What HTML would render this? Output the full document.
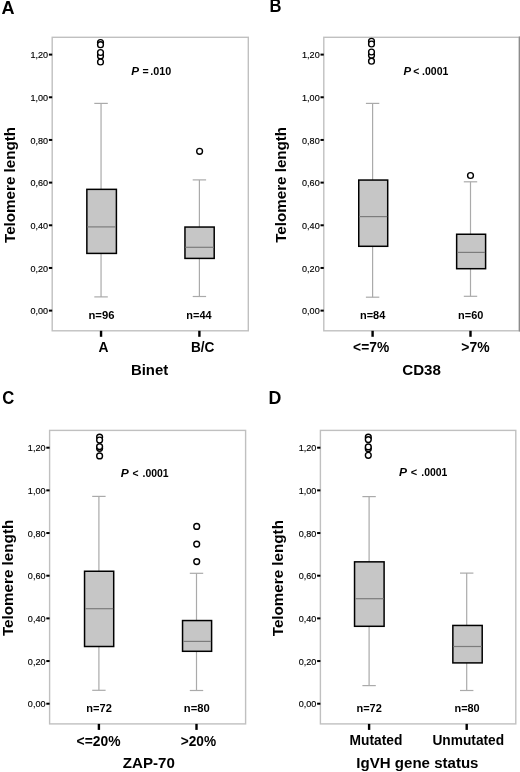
<!DOCTYPE html>
<html><head><meta charset="utf-8"><title>Telomere length box plots</title>
<style>
html,body{margin:0;padding:0;background:#fff;}
body{width:520px;height:772px;overflow:hidden;}
svg{display:block;filter:blur(0.25px);}
text{font-family:"Liberation Sans", sans-serif;fill:#000;}
</style></head>
<body>
<svg width="520" height="772" viewBox="0 0 520 772">
<rect width="520" height="772" fill="#fff"/>
<text x="1.55" y="13.70" font-size="18.0" font-weight="bold" textLength="13.02" lengthAdjust="spacingAndGlyphs">A</text>
<rect x="52.2" y="37.3" width="196.1" height="293.5" fill="none" stroke="#c0c0c0" stroke-width="1.4"/>
<line x1="48.9" y1="54.60" x2="52.2" y2="54.60" stroke="#000" stroke-width="2"/>
<text x="48.1" y="58.35" font-size="9.7" text-anchor="end" fill="#000" stroke="#000" stroke-width="0.15" textLength="17.65" lengthAdjust="spacingAndGlyphs">1,20</text>
<line x1="48.9" y1="97.27" x2="52.2" y2="97.27" stroke="#000" stroke-width="2"/>
<text x="48.1" y="101.02" font-size="9.7" text-anchor="end" fill="#000" stroke="#000" stroke-width="0.15" textLength="17.65" lengthAdjust="spacingAndGlyphs">1,00</text>
<line x1="48.9" y1="139.94" x2="52.2" y2="139.94" stroke="#000" stroke-width="2"/>
<text x="48.1" y="143.69" font-size="9.7" text-anchor="end" fill="#000" stroke="#000" stroke-width="0.15" textLength="17.65" lengthAdjust="spacingAndGlyphs">0,80</text>
<line x1="48.9" y1="182.61" x2="52.2" y2="182.61" stroke="#000" stroke-width="2"/>
<text x="48.1" y="186.36" font-size="9.7" text-anchor="end" fill="#000" stroke="#000" stroke-width="0.15" textLength="17.65" lengthAdjust="spacingAndGlyphs">0,60</text>
<line x1="48.9" y1="225.28" x2="52.2" y2="225.28" stroke="#000" stroke-width="2"/>
<text x="48.1" y="229.03" font-size="9.7" text-anchor="end" fill="#000" stroke="#000" stroke-width="0.15" textLength="17.65" lengthAdjust="spacingAndGlyphs">0,40</text>
<line x1="48.9" y1="267.95" x2="52.2" y2="267.95" stroke="#000" stroke-width="2"/>
<text x="48.1" y="271.70" font-size="9.7" text-anchor="end" fill="#000" stroke="#000" stroke-width="0.15" textLength="17.65" lengthAdjust="spacingAndGlyphs">0,20</text>
<line x1="48.9" y1="310.62" x2="52.2" y2="310.62" stroke="#000" stroke-width="2"/>
<text x="48.1" y="314.37" font-size="9.7" text-anchor="end" fill="#000" stroke="#000" stroke-width="0.15" textLength="17.65" lengthAdjust="spacingAndGlyphs">0,00</text>
<text transform="translate(15.30,242.97) rotate(-90)" font-size="15.3" font-weight="bold" textLength="116.10" lengthAdjust="spacingAndGlyphs">Telomere length</text>
<line x1="101.05" y1="103.4" x2="101.05" y2="189.2" stroke="#aaaaaa" stroke-width="1.2"/>
<line x1="101.05" y1="253.4" x2="101.05" y2="296.9" stroke="#aaaaaa" stroke-width="1.2"/>
<line x1="94.3" y1="103.4" x2="107.8" y2="103.4" stroke="#aaaaaa" stroke-width="1.2"/>
<line x1="94.3" y1="296.9" x2="107.8" y2="296.9" stroke="#aaaaaa" stroke-width="1.2"/>
<rect x="86.85" y="189.35" width="29.55" height="64.05" fill="#c6c6c6" stroke="#000" stroke-width="1.5"/>
<line x1="87.3" y1="226.9" x2="115.9" y2="226.9" stroke="#7c7c7c" stroke-width="1.2"/>
<circle cx="100.5" cy="42.5" r="2.9" fill="#fff" stroke="#000" stroke-width="1.4"/>
<circle cx="100.5" cy="44.7" r="2.9" fill="#fff" stroke="#000" stroke-width="1.4"/>
<circle cx="100.5" cy="55.9" r="2.9" fill="#fff" stroke="#000" stroke-width="1.4"/>
<circle cx="100.5" cy="52.5" r="2.9" fill="#fff" stroke="#000" stroke-width="1.4"/>
<circle cx="100.5" cy="62.0" r="2.9" fill="#fff" stroke="#000" stroke-width="1.4"/>
<text x="88.45" y="319.00" font-size="10.8" font-weight="bold" textLength="26.05" lengthAdjust="spacingAndGlyphs">n=96</text>
<line x1="101.05" y1="330.8" x2="101.05" y2="336.8" stroke="#000" stroke-width="2.4"/>
<text x="98.45" y="352.10" font-size="13.8" font-weight="bold" textLength="10.01" lengthAdjust="spacingAndGlyphs">A</text>
<line x1="199.4" y1="179.9" x2="199.4" y2="226.9" stroke="#aaaaaa" stroke-width="1.2"/>
<line x1="199.4" y1="258.4" x2="199.4" y2="296.5" stroke="#aaaaaa" stroke-width="1.2"/>
<line x1="192.7" y1="179.9" x2="206.1" y2="179.9" stroke="#aaaaaa" stroke-width="1.2"/>
<line x1="192.7" y1="296.5" x2="206.1" y2="296.5" stroke="#aaaaaa" stroke-width="1.2"/>
<rect x="184.95" y="227.05" width="29.25" height="31.35" fill="#c6c6c6" stroke="#000" stroke-width="1.5"/>
<line x1="185.4" y1="247.3" x2="213.7" y2="247.3" stroke="#7c7c7c" stroke-width="1.2"/>
<circle cx="199.6" cy="151.3" r="2.9" fill="#fff" stroke="#000" stroke-width="1.4"/>
<text x="186.38" y="319.00" font-size="10.8" font-weight="bold" textLength="25.18" lengthAdjust="spacingAndGlyphs">n=44</text>
<line x1="199.4" y1="330.8" x2="199.4" y2="336.8" stroke="#000" stroke-width="2.4"/>
<text x="190.89" y="352.30" font-size="13.8" font-weight="bold" textLength="23.48" lengthAdjust="spacingAndGlyphs">B/C</text>
<text x="130.90" y="374.60" font-size="14.7" font-weight="bold" textLength="37.28" lengthAdjust="spacingAndGlyphs">Binet</text>
<text x="131.29" y="74.90" font-size="10.4" font-weight="bold" textLength="7.80" lengthAdjust="spacingAndGlyphs" font-style="italic">P</text>
<text x="142.56" y="74.90" font-size="10.4" font-weight="bold" textLength="6.18" lengthAdjust="spacingAndGlyphs">=</text>
<text x="150.27" y="74.90" font-size="10.4" font-weight="bold" textLength="20.98" lengthAdjust="spacingAndGlyphs">.010</text>
<text x="269.59" y="12.40" font-size="18.0" font-weight="bold" textLength="11.96" lengthAdjust="spacingAndGlyphs">B</text>
<rect x="323.8" y="37.3" width="195.6" height="293.5" fill="none" stroke="#c0c0c0" stroke-width="1.4"/>
<line x1="519.4" y1="36.599999999999994" x2="519.4" y2="331.5" stroke="#8c8c8c" stroke-width="1.3"/>
<line x1="320.5" y1="54.60" x2="323.8" y2="54.60" stroke="#000" stroke-width="2"/>
<text x="319.7" y="58.35" font-size="9.7" text-anchor="end" fill="#000" stroke="#000" stroke-width="0.15" textLength="17.65" lengthAdjust="spacingAndGlyphs">1,20</text>
<line x1="320.5" y1="97.27" x2="323.8" y2="97.27" stroke="#000" stroke-width="2"/>
<text x="319.7" y="101.02" font-size="9.7" text-anchor="end" fill="#000" stroke="#000" stroke-width="0.15" textLength="17.65" lengthAdjust="spacingAndGlyphs">1,00</text>
<line x1="320.5" y1="139.94" x2="323.8" y2="139.94" stroke="#000" stroke-width="2"/>
<text x="319.7" y="143.69" font-size="9.7" text-anchor="end" fill="#000" stroke="#000" stroke-width="0.15" textLength="17.65" lengthAdjust="spacingAndGlyphs">0,80</text>
<line x1="320.5" y1="182.61" x2="323.8" y2="182.61" stroke="#000" stroke-width="2"/>
<text x="319.7" y="186.36" font-size="9.7" text-anchor="end" fill="#000" stroke="#000" stroke-width="0.15" textLength="17.65" lengthAdjust="spacingAndGlyphs">0,60</text>
<line x1="320.5" y1="225.28" x2="323.8" y2="225.28" stroke="#000" stroke-width="2"/>
<text x="319.7" y="229.03" font-size="9.7" text-anchor="end" fill="#000" stroke="#000" stroke-width="0.15" textLength="17.65" lengthAdjust="spacingAndGlyphs">0,40</text>
<line x1="320.5" y1="267.95" x2="323.8" y2="267.95" stroke="#000" stroke-width="2"/>
<text x="319.7" y="271.70" font-size="9.7" text-anchor="end" fill="#000" stroke="#000" stroke-width="0.15" textLength="17.65" lengthAdjust="spacingAndGlyphs">0,20</text>
<line x1="320.5" y1="310.62" x2="323.8" y2="310.62" stroke="#000" stroke-width="2"/>
<text x="319.7" y="314.37" font-size="9.7" text-anchor="end" fill="#000" stroke="#000" stroke-width="0.15" textLength="17.65" lengthAdjust="spacingAndGlyphs">0,00</text>
<text transform="translate(286.10,242.77) rotate(-90)" font-size="15.3" font-weight="bold" textLength="115.90" lengthAdjust="spacingAndGlyphs">Telomere length</text>
<line x1="372.6" y1="103.4" x2="372.6" y2="179.9" stroke="#aaaaaa" stroke-width="1.2"/>
<line x1="372.6" y1="246.3" x2="372.6" y2="297.2" stroke="#aaaaaa" stroke-width="1.2"/>
<line x1="365.9" y1="103.4" x2="379.3" y2="103.4" stroke="#aaaaaa" stroke-width="1.2"/>
<line x1="365.9" y1="297.2" x2="379.3" y2="297.2" stroke="#aaaaaa" stroke-width="1.2"/>
<rect x="358.75" y="180.05" width="28.95" height="66.25" fill="#c6c6c6" stroke="#000" stroke-width="1.5"/>
<line x1="359.2" y1="216.6" x2="387.2" y2="216.6" stroke="#7c7c7c" stroke-width="1.2"/>
<circle cx="371.5" cy="41.3" r="2.9" fill="#fff" stroke="#000" stroke-width="1.4"/>
<circle cx="371.5" cy="44.0" r="2.9" fill="#fff" stroke="#000" stroke-width="1.4"/>
<circle cx="371.5" cy="55.3" r="2.9" fill="#fff" stroke="#000" stroke-width="1.4"/>
<circle cx="371.5" cy="52.0" r="2.9" fill="#fff" stroke="#000" stroke-width="1.4"/>
<circle cx="371.5" cy="61.2" r="2.9" fill="#fff" stroke="#000" stroke-width="1.4"/>
<text x="359.98" y="319.00" font-size="10.8" font-weight="bold" textLength="25.28" lengthAdjust="spacingAndGlyphs">n=84</text>
<line x1="372.6" y1="330.8" x2="372.6" y2="336.8" stroke="#000" stroke-width="2.4"/>
<text x="353.12" y="352.30" font-size="13.8" font-weight="bold" textLength="36.04" lengthAdjust="spacingAndGlyphs">&lt;=7%</text>
<line x1="470.5" y1="181.8" x2="470.5" y2="234.1" stroke="#aaaaaa" stroke-width="1.2"/>
<line x1="470.5" y1="268.7" x2="470.5" y2="296.3" stroke="#aaaaaa" stroke-width="1.2"/>
<line x1="463.8" y1="181.8" x2="477.2" y2="181.8" stroke="#aaaaaa" stroke-width="1.2"/>
<line x1="463.8" y1="296.3" x2="477.2" y2="296.3" stroke="#aaaaaa" stroke-width="1.2"/>
<rect x="456.65" y="234.25" width="28.95" height="34.45" fill="#c6c6c6" stroke="#000" stroke-width="1.5"/>
<line x1="457.2" y1="252.4" x2="485.1" y2="252.4" stroke="#7c7c7c" stroke-width="1.2"/>
<circle cx="470.5" cy="175.5" r="2.9" fill="#fff" stroke="#000" stroke-width="1.4"/>
<text x="458.08" y="319.00" font-size="10.8" font-weight="bold" textLength="25.27" lengthAdjust="spacingAndGlyphs">n=60</text>
<line x1="470.5" y1="330.8" x2="470.5" y2="336.8" stroke="#000" stroke-width="2.4"/>
<text x="461.32" y="352.30" font-size="13.8" font-weight="bold" textLength="28.25" lengthAdjust="spacingAndGlyphs">&gt;7%</text>
<text x="402.28" y="375.10" font-size="14.7" font-weight="bold" textLength="38.68" lengthAdjust="spacingAndGlyphs">CD38</text>
<text x="403.40" y="75.10" font-size="10.4" font-weight="bold" textLength="7.59" lengthAdjust="spacingAndGlyphs" font-style="italic">P</text>
<text x="413.36" y="75.10" font-size="10.4" font-weight="bold" textLength="6.06" lengthAdjust="spacingAndGlyphs">&lt;</text>
<text x="422.08" y="75.10" font-size="10.4" font-weight="bold" textLength="26.31" lengthAdjust="spacingAndGlyphs">.0001</text>
<text x="2.22" y="404.40" font-size="18.0" font-weight="bold" textLength="12.04" lengthAdjust="spacingAndGlyphs">C</text>
<rect x="49.6" y="430.4" width="196.0" height="293.5" fill="none" stroke="#c0c0c0" stroke-width="1.4"/>
<line x1="46.3" y1="447.70" x2="49.6" y2="447.70" stroke="#000" stroke-width="2"/>
<text x="45.5" y="451.45" font-size="9.7" text-anchor="end" fill="#000" stroke="#000" stroke-width="0.15" textLength="17.65" lengthAdjust="spacingAndGlyphs">1,20</text>
<line x1="46.3" y1="490.37" x2="49.6" y2="490.37" stroke="#000" stroke-width="2"/>
<text x="45.5" y="494.12" font-size="9.7" text-anchor="end" fill="#000" stroke="#000" stroke-width="0.15" textLength="17.65" lengthAdjust="spacingAndGlyphs">1,00</text>
<line x1="46.3" y1="533.04" x2="49.6" y2="533.04" stroke="#000" stroke-width="2"/>
<text x="45.5" y="536.79" font-size="9.7" text-anchor="end" fill="#000" stroke="#000" stroke-width="0.15" textLength="17.65" lengthAdjust="spacingAndGlyphs">0,80</text>
<line x1="46.3" y1="575.71" x2="49.6" y2="575.71" stroke="#000" stroke-width="2"/>
<text x="45.5" y="579.46" font-size="9.7" text-anchor="end" fill="#000" stroke="#000" stroke-width="0.15" textLength="17.65" lengthAdjust="spacingAndGlyphs">0,60</text>
<line x1="46.3" y1="618.38" x2="49.6" y2="618.38" stroke="#000" stroke-width="2"/>
<text x="45.5" y="622.13" font-size="9.7" text-anchor="end" fill="#000" stroke="#000" stroke-width="0.15" textLength="17.65" lengthAdjust="spacingAndGlyphs">0,40</text>
<line x1="46.3" y1="661.05" x2="49.6" y2="661.05" stroke="#000" stroke-width="2"/>
<text x="45.5" y="664.80" font-size="9.7" text-anchor="end" fill="#000" stroke="#000" stroke-width="0.15" textLength="17.65" lengthAdjust="spacingAndGlyphs">0,20</text>
<line x1="46.3" y1="703.72" x2="49.6" y2="703.72" stroke="#000" stroke-width="2"/>
<text x="45.5" y="707.47" font-size="9.7" text-anchor="end" fill="#000" stroke="#000" stroke-width="0.15" textLength="17.65" lengthAdjust="spacingAndGlyphs">0,00</text>
<text transform="translate(12.60,636.07) rotate(-90)" font-size="15.3" font-weight="bold" textLength="116.30" lengthAdjust="spacingAndGlyphs">Telomere length</text>
<line x1="98.9" y1="496.4" x2="98.9" y2="571.1" stroke="#aaaaaa" stroke-width="1.2"/>
<line x1="98.9" y1="646.5" x2="98.9" y2="690.3" stroke="#aaaaaa" stroke-width="1.2"/>
<line x1="92.2" y1="496.4" x2="105.6" y2="496.4" stroke="#aaaaaa" stroke-width="1.2"/>
<line x1="92.2" y1="690.3" x2="105.6" y2="690.3" stroke="#aaaaaa" stroke-width="1.2"/>
<rect x="84.55" y="571.25" width="29.15" height="75.25" fill="#c6c6c6" stroke="#000" stroke-width="1.5"/>
<line x1="85.0" y1="608.7" x2="113.2" y2="608.7" stroke="#7c7c7c" stroke-width="1.2"/>
<circle cx="99.6" cy="437.1" r="2.9" fill="#fff" stroke="#000" stroke-width="1.4"/>
<circle cx="99.6" cy="440.0" r="2.9" fill="#fff" stroke="#000" stroke-width="1.4"/>
<circle cx="99.6" cy="448.3" r="2.9" fill="#fff" stroke="#000" stroke-width="1.4"/>
<circle cx="99.6" cy="446.6" r="2.9" fill="#fff" stroke="#000" stroke-width="1.4"/>
<circle cx="99.6" cy="455.9" r="2.9" fill="#fff" stroke="#000" stroke-width="1.4"/>
<text x="86.37" y="712.00" font-size="10.8" font-weight="bold" textLength="25.47" lengthAdjust="spacingAndGlyphs">n=72</text>
<line x1="98.9" y1="723.9" x2="98.9" y2="729.9" stroke="#000" stroke-width="2.4"/>
<text x="76.62" y="745.80" font-size="13.8" font-weight="bold" textLength="43.95" lengthAdjust="spacingAndGlyphs">&lt;=20%</text>
<line x1="196.5" y1="573.3" x2="196.5" y2="620.4" stroke="#aaaaaa" stroke-width="1.2"/>
<line x1="196.5" y1="651.3" x2="196.5" y2="690.5" stroke="#aaaaaa" stroke-width="1.2"/>
<line x1="189.8" y1="573.3" x2="203.2" y2="573.3" stroke="#aaaaaa" stroke-width="1.2"/>
<line x1="189.8" y1="690.5" x2="203.2" y2="690.5" stroke="#aaaaaa" stroke-width="1.2"/>
<rect x="182.55" y="620.55" width="29.05" height="30.75" fill="#c6c6c6" stroke="#000" stroke-width="1.5"/>
<line x1="183.0" y1="641.4" x2="211.1" y2="641.4" stroke="#7c7c7c" stroke-width="1.2"/>
<circle cx="196.7" cy="526.4" r="2.9" fill="#fff" stroke="#000" stroke-width="1.4"/>
<circle cx="196.7" cy="544.1" r="2.9" fill="#fff" stroke="#000" stroke-width="1.4"/>
<circle cx="196.7" cy="561.6" r="2.9" fill="#fff" stroke="#000" stroke-width="1.4"/>
<text x="183.86" y="711.90" font-size="10.8" font-weight="bold" textLength="25.90" lengthAdjust="spacingAndGlyphs">n=80</text>
<line x1="196.5" y1="723.9" x2="196.5" y2="729.9" stroke="#000" stroke-width="2.4"/>
<text x="180.73" y="745.70" font-size="13.8" font-weight="bold" textLength="35.34" lengthAdjust="spacingAndGlyphs">&gt;20%</text>
<text x="122.85" y="767.60" font-size="14.7" font-weight="bold" textLength="51.98" lengthAdjust="spacingAndGlyphs">ZAP-70</text>
<text x="120.68" y="476.70" font-size="10.4" font-weight="bold" textLength="8.00" lengthAdjust="spacingAndGlyphs" font-style="italic">P</text>
<text x="132.56" y="476.70" font-size="10.4" font-weight="bold" textLength="6.06" lengthAdjust="spacingAndGlyphs">&lt;</text>
<text x="142.49" y="476.70" font-size="10.4" font-weight="bold" textLength="26.11" lengthAdjust="spacingAndGlyphs">.0001</text>
<text x="268.61" y="403.80" font-size="18.0" font-weight="bold" textLength="12.84" lengthAdjust="spacingAndGlyphs">D</text>
<rect x="320.4" y="430.4" width="195.4" height="293.5" fill="none" stroke="#c0c0c0" stroke-width="1.4"/>
<line x1="317.1" y1="447.70" x2="320.4" y2="447.70" stroke="#000" stroke-width="2"/>
<text x="316.3" y="451.45" font-size="9.7" text-anchor="end" fill="#000" stroke="#000" stroke-width="0.15" textLength="17.65" lengthAdjust="spacingAndGlyphs">1,20</text>
<line x1="317.1" y1="490.37" x2="320.4" y2="490.37" stroke="#000" stroke-width="2"/>
<text x="316.3" y="494.12" font-size="9.7" text-anchor="end" fill="#000" stroke="#000" stroke-width="0.15" textLength="17.65" lengthAdjust="spacingAndGlyphs">1,00</text>
<line x1="317.1" y1="533.04" x2="320.4" y2="533.04" stroke="#000" stroke-width="2"/>
<text x="316.3" y="536.79" font-size="9.7" text-anchor="end" fill="#000" stroke="#000" stroke-width="0.15" textLength="17.65" lengthAdjust="spacingAndGlyphs">0,80</text>
<line x1="317.1" y1="575.71" x2="320.4" y2="575.71" stroke="#000" stroke-width="2"/>
<text x="316.3" y="579.46" font-size="9.7" text-anchor="end" fill="#000" stroke="#000" stroke-width="0.15" textLength="17.65" lengthAdjust="spacingAndGlyphs">0,60</text>
<line x1="317.1" y1="618.38" x2="320.4" y2="618.38" stroke="#000" stroke-width="2"/>
<text x="316.3" y="622.13" font-size="9.7" text-anchor="end" fill="#000" stroke="#000" stroke-width="0.15" textLength="17.65" lengthAdjust="spacingAndGlyphs">0,40</text>
<line x1="317.1" y1="661.05" x2="320.4" y2="661.05" stroke="#000" stroke-width="2"/>
<text x="316.3" y="664.80" font-size="9.7" text-anchor="end" fill="#000" stroke="#000" stroke-width="0.15" textLength="17.65" lengthAdjust="spacingAndGlyphs">0,20</text>
<line x1="317.1" y1="703.72" x2="320.4" y2="703.72" stroke="#000" stroke-width="2"/>
<text x="316.3" y="707.47" font-size="9.7" text-anchor="end" fill="#000" stroke="#000" stroke-width="0.15" textLength="17.65" lengthAdjust="spacingAndGlyphs">0,00</text>
<text transform="translate(282.60,636.27) rotate(-90)" font-size="15.3" font-weight="bold" textLength="116.20" lengthAdjust="spacingAndGlyphs">Telomere length</text>
<line x1="369.1" y1="496.6" x2="369.1" y2="561.7" stroke="#aaaaaa" stroke-width="1.2"/>
<line x1="369.1" y1="626.3" x2="369.1" y2="685.6" stroke="#aaaaaa" stroke-width="1.2"/>
<line x1="362.4" y1="496.6" x2="375.8" y2="496.6" stroke="#aaaaaa" stroke-width="1.2"/>
<line x1="362.4" y1="685.6" x2="375.8" y2="685.6" stroke="#aaaaaa" stroke-width="1.2"/>
<rect x="354.55" y="561.85" width="29.55" height="64.45" fill="#c6c6c6" stroke="#000" stroke-width="1.5"/>
<line x1="355.1" y1="598.7" x2="383.6" y2="598.7" stroke="#7c7c7c" stroke-width="1.2"/>
<circle cx="368.3" cy="437.2" r="2.9" fill="#fff" stroke="#000" stroke-width="1.4"/>
<circle cx="368.3" cy="439.6" r="2.9" fill="#fff" stroke="#000" stroke-width="1.4"/>
<circle cx="368.3" cy="448.7" r="2.9" fill="#fff" stroke="#000" stroke-width="1.4"/>
<circle cx="368.3" cy="446.9" r="2.9" fill="#fff" stroke="#000" stroke-width="1.4"/>
<circle cx="368.3" cy="455.3" r="2.9" fill="#fff" stroke="#000" stroke-width="1.4"/>
<text x="356.47" y="712.20" font-size="10.8" font-weight="bold" textLength="25.37" lengthAdjust="spacingAndGlyphs">n=72</text>
<line x1="369.1" y1="723.9" x2="369.1" y2="729.9" stroke="#000" stroke-width="2.4"/>
<text x="349.58" y="744.80" font-size="13.8" font-weight="bold" textLength="52.83" lengthAdjust="spacingAndGlyphs">Mutated</text>
<line x1="466.7" y1="573.1" x2="466.7" y2="625.3" stroke="#aaaaaa" stroke-width="1.2"/>
<line x1="466.7" y1="662.9" x2="466.7" y2="690.5" stroke="#aaaaaa" stroke-width="1.2"/>
<line x1="460.0" y1="573.1" x2="473.4" y2="573.1" stroke="#aaaaaa" stroke-width="1.2"/>
<line x1="460.0" y1="690.5" x2="473.4" y2="690.5" stroke="#aaaaaa" stroke-width="1.2"/>
<rect x="452.85" y="625.45" width="29.35" height="37.45" fill="#c6c6c6" stroke="#000" stroke-width="1.5"/>
<line x1="453.4" y1="646.5" x2="481.7" y2="646.5" stroke="#7c7c7c" stroke-width="1.2"/>
<text x="454.48" y="712.00" font-size="10.8" font-weight="bold" textLength="25.17" lengthAdjust="spacingAndGlyphs">n=80</text>
<line x1="466.7" y1="723.9" x2="466.7" y2="729.9" stroke="#000" stroke-width="2.4"/>
<text x="432.48" y="745.30" font-size="13.8" font-weight="bold" textLength="71.63" lengthAdjust="spacingAndGlyphs">Unmutated</text>
<text x="356.39" y="768.30" font-size="14.7" font-weight="bold" textLength="122.12" lengthAdjust="spacingAndGlyphs">IgVH gene status</text>
<text x="398.98" y="476.10" font-size="10.4" font-weight="bold" textLength="8.00" lengthAdjust="spacingAndGlyphs" font-style="italic">P</text>
<text x="410.84" y="476.10" font-size="10.4" font-weight="bold" textLength="6.41" lengthAdjust="spacingAndGlyphs">&lt;</text>
<text x="421.29" y="476.10" font-size="10.4" font-weight="bold" textLength="26.11" lengthAdjust="spacingAndGlyphs">.0001</text>
</svg>
</body></html>
